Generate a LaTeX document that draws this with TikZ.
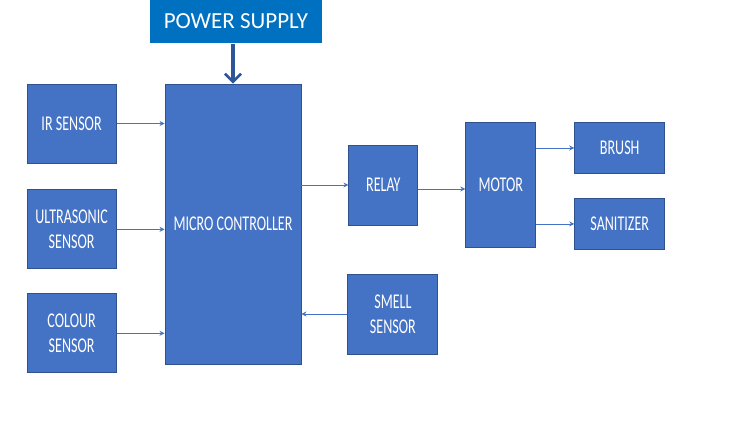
\documentclass[tikz,border=0pt]{standalone}
\usepackage{fontspec}
\usepackage{tikz}
\usetikzlibrary{arrows.meta,positioning}
\newfontfamily\boxfont[FakeStretch=0.67]{Carlito}
\newfontfamily\headfont{Carlito}
\definecolor{BoxBlue}{HTML}{4472C4}
\definecolor{EdgeBlue}{HTML}{2F528F}
\definecolor{PowerBlue}{HTML}{0070C0}
\definecolor{FeedBlue}{HTML}{2E5597}

\begin{document}
\begin{tikzpicture}[
  x=1pt,y=-1pt,
  box/.style={draw=EdgeBlue,line width=0.9pt,fill=BoxBlue,text=white,align=center,
              inner sep=0pt,font=\boxfont\fontsize{21}{25}\selectfont},
  sensor/.style={box,minimum width=89pt,minimum height=79pt},
  load/.style={box,minimum width=90pt,minimum height=51pt},
  arr/.style={-{Stealth[length=5pt,width=5pt]},line width=0.8pt,draw=BoxBlue},
  feed/.style={-{Straight Barb[length=8pt,width=16pt,line width=2.6pt]},line width=3.4pt,draw=FeedBlue}
]
\useasboundingbox (0,0) rectangle (752,422);
\node[box,minimum width=136pt,minimum height=280pt] (mcu) at (233,224) {MICRO CONTROLLER};
\node[fill=PowerBlue,text=white,minimum width=172pt,minimum height=44pt,inner sep=0pt,
      font=\headfont\fontsize{23}{26}\selectfont,above=40pt of mcu,xshift=3pt] (power) {POWER SUPPLY};
\node[sensor,below left=0pt and 48pt of mcu.north west] (ir) {IR SENSOR};
\node[sensor,below=26pt of ir] (ultra) {ULTRASONIC\\SENSOR};
\node[sensor,below=24pt of ultra] (colour) {COLOUR\\SENSOR};
\node[box,minimum width=69pt,minimum height=80pt,right=47pt of mcu.east,yshift=39pt] (relay) {RELAY};
\node[box,minimum width=70pt,minimum height=125pt,right=47pt of relay] (motor) {MOTOR};
\node[load,below right=0pt and 38pt of motor.north east] (brush) {BRUSH};
\node[load,below=24pt of brush] (sanit) {SANITIZER};
\node[sensor,minimum width=90pt,minimum height=80pt,right=46pt of mcu.east,yshift=-90pt] (smell) {SMELL\\SENSOR};
\draw[feed] (mcu.north |- power.south) -- (mcu.north);
\draw[arr] (ir) -- (ir -| mcu.west);
\draw[arr] (ultra) -- (ultra -| mcu.west);
\draw[arr] (colour) -- (colour -| mcu.west);
\draw[arr] (mcu.east |- relay) -- (relay);
\draw[arr] ([yshift=-4pt]relay.east) -- ([yshift=-4pt]relay.east -| motor.west);
\draw[arr] (motor.east |- brush) -- (brush);
\draw[arr] (motor.east |- sanit) -- (sanit);
\draw[arr] (smell) -- (smell -| mcu.east);
\end{tikzpicture}
\end{document}
